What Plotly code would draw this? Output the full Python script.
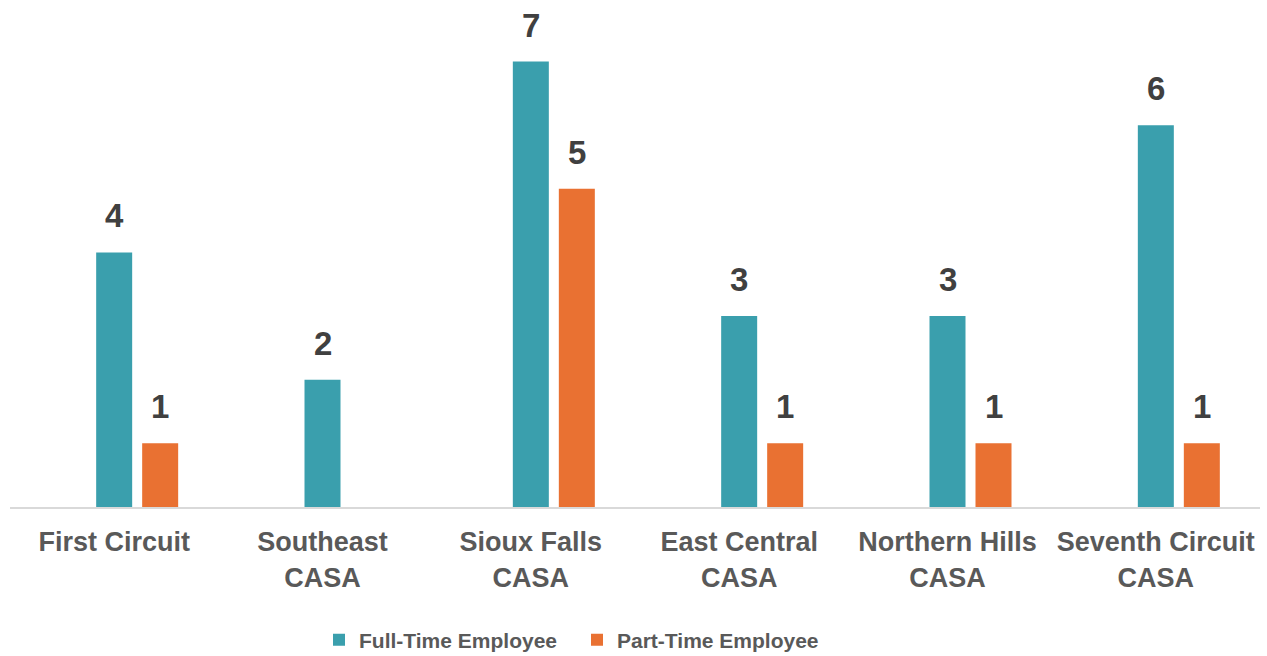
import plotly.graph_objects as go

categories = ["First Circuit", "Southeast<br>CASA", "Sioux Falls<br>CASA", "East Central<br>CASA",
              "Northern Hills<br>CASA", "Seventh Circuit<br>CASA"]
full_time = [4, 2, 7, 3, 3, 6]
part_time = [1, 0, 5, 1, 1, 1]
series_names = ["Full-Time Employee", "Part-Time Employee"]
colors = ["#3a9fad", "#e97132"]

W, H = 1267, 656
ml, mr, mt, mb = 10, 7, 17, 149
cat_px = (W - ml - mr) / len(categories)
bar_w = 36 / cat_px
offsets = [-18 / cat_px, 28 / cat_px]
shifts = [0, 46]

fig = go.Figure()
annotations = []
for vals, name, col, off, sh in zip([full_time, part_time], series_names, colors, offsets, shifts):
    fig.add_trace(go.Bar(x=categories, y=vals, name=name, marker_color=col,
                         marker_line_width=0, width=bar_w, offset=off, hoverinfo="skip"))
    for c, v in zip(categories, vals):
        if v:
            annotations.append(dict(x=c, y=v, xref="x", yref="y", text=str(v), showarrow=False,
                                    xshift=sh, yanchor="bottom", yshift=16,
                                    font=dict(size=33, color="#404040",
                                              family="Liberation Sans, Arial", weight="bold")))

fig.update_layout(
    width=W, height=H, barmode="overlay",
    margin=dict(l=ml, r=mr, t=mt, b=mb, autoexpand=False),
    plot_bgcolor="white", paper_bgcolor="white",
    font=dict(family="Liberation Sans, Arial", color="#595959"),
    annotations=annotations,
    showlegend=True,
    legend=dict(orientation="h", x=(319 - ml) / (W - ml - mr), xanchor="left",
                y=-0.23, yanchor="top",
                font=dict(size=21, color="#595959", weight="bold"),
                traceorder="normal", entrywidth=213),
    xaxis=dict(showline=True, linecolor="#d9d9d9", linewidth=2, showgrid=False,
               automargin=False,
               ticks="", tickfont=dict(size=27, color="#595959", weight="bold"),
               ticklabelstandoff=10),
    yaxis=dict(range=[0, 7.7], visible=False, showgrid=False, zeroline=False, automargin=False),
)
fig.write_html("out.html", config={"displayModeBar": False},
               post_script="document.body.style.margin='0px';document.body.style.overflow='hidden';")
